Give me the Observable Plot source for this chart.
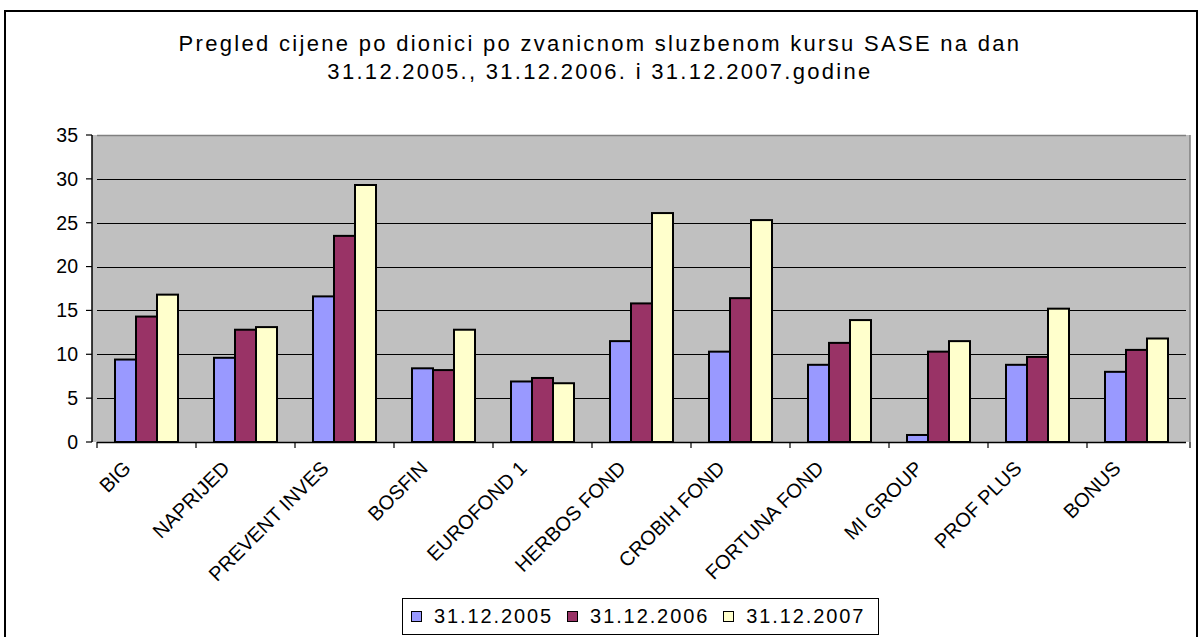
<!DOCTYPE html>
<html>
<head>
<meta charset="utf-8">
<script src="https://cdn.jsdelivr.net/npm/d3@7"></script>
<script src="https://cdn.jsdelivr.net/npm/@observablehq/plot@0.6"></script>
<style>
  html, body { margin: 0; padding: 0; background: #fff; }
  body { font-family: "Liberation Sans", Arial, sans-serif; }
  #wrap { position: relative; width: 1200px; height: 637px; overflow: hidden; background: #fff; }
  #border { position: absolute; left: 4px; top: 10px; width: 1194px; height: 660px; border: 2px solid #000; box-sizing: border-box; }
  #title { position: absolute; top: 30px; left: 0; width: 1200px; text-align: center; font-size: 22px; line-height: 28px; color: #000; letter-spacing: 2.3px; }
  #chart { position: absolute; left: 0; top: 100px; }
  #legend { position: absolute; left: 402px; top: 598px; width: 477px; height: 37px; border: 1px solid #000; box-sizing: border-box; display: flex; align-items: center; padding-left: 8px; font-size: 20px; letter-spacing: 1.9px; white-space: nowrap; }
  #legend .item { display: flex; align-items: center; margin-right: 14px; }
  #legend .sw { width: 9px; height: 9px; border: 1.5px solid #000; margin-right: 12px; }
</style>
</head>
<body>
<div id="wrap">
  <div id="border"></div>
  <div id="title"></div>
  <div id="chart"></div>
  <div id="legend"></div>
</div>
<script>
const titleLines = [
  "Pregled cijene po dionici po zvanicnom sluzbenom kursu SASE na dan",
  "31.12.2005., 31.12.2006. i 31.12.2007.godine"
];
const categories = ["BIG", "NAPRIJED", "PREVENT INVES", "BOSFIN", "EUROFOND 1", "HERBOS FOND", "CROBIH FOND", "FORTUNA FOND", "MI GROUP", "PROF PLUS", "BONUS"];
const series = ["31.12.2005", "31.12.2006", "31.12.2007"];
const v2005 = [9.4, 9.6, 16.6, 8.4, 6.9, 11.5, 10.3, 8.8, 0.8, 8.8, 8.0];
const v2006 = [14.3, 12.8, 23.5, 8.2, 7.3, 15.8, 16.4, 11.3, 10.3, 9.7, 10.5];
const v2007 = [16.8, 13.1, 29.3, 12.8, 6.7, 26.1, 25.3, 13.9, 11.5, 15.2, 11.8];
const yTicks = [0, 5, 10, 15, 20, 25, 30, 35];
const colors = ["#9999FF", "#993366", "#FFFFCC"];

const seriesValues = [v2005, v2006, v2007];
const table = [];
categories.forEach((c, i) => {
  series.forEach((s, j) => table.push({category: c, series: s, value: seriesValues[j][i]}));
});

document.getElementById("title").innerHTML = titleLines.join("<br>");

const labelDx = -15, labelDy = 27;

const chart = Plot.plot({
  width: 1200,
  height: 495,
  marginLeft: 92,
  marginRight: 10,
  marginTop: 35,
  marginBottom: 153,
  style: {fontFamily: "Liberation Sans, Arial, sans-serif", background: "transparent"},
  fx: {domain: categories, padding: 0, axis: null, label: null},
  x: {domain: series, paddingInner: 0, paddingOuter: 0.76, axis: null},
  y: {domain: [0, 35], axis: null},
  color: {domain: series, range: colors},
  marks: [
    Plot.ruleY(yTicks.slice(1, -1), {stroke: "#000", strokeWidth: 1, shapeRendering: "crispEdges"}),
    Plot.ruleY([35], {stroke: "#808080", strokeWidth: 1.5}),
    Plot.barY(table, {fx: "category", x: "series", y: "value", fill: "series", stroke: "#000", strokeWidth: 2}),
    Plot.ruleY([0], {stroke: "#000", strokeWidth: 1.5}),
    Plot.text(categories, {fx: d => d, frameAnchor: "bottom", text: d => d, rotate: -45, textAnchor: "end", lineAnchor: "bottom", dx: labelDx, dy: labelDy, fontSize: 20, fill: "#000", className: "catlabels"})
  ]
});
document.getElementById("chart").appendChild(chart);

// axis lines, ticks, background and borders drawn from the plot's own scales
const svg = d3.select(chart);
const fx = chart.scale("fx");
const y = chart.scale("y");
const x0 = fx.range[0], x1 = fx.range[1];
const yb = y.apply(0), yt = y.apply(35);
// single grey plot-area background behind all facets
svg.insert("rect", "g")
  .attr("x", x0).attr("y", yt).attr("width", x1 - x0).attr("height", yb - yt)
  .attr("fill", "#C0C0C0");
// clip category labels to the label area (as the original does)
svg.append("defs").append("clipPath").attr("id", "labclip").attr("clipPathUnits", "userSpaceOnUse")
  .append("rect").attr("x", -3000).attr("y", yb + 10 - labelDy).attr("width", 6000).attr("height", 1000);
svg.selectAll(".catlabels").attr("clip-path", "url(#labclip)");

const g = svg.append("g");
g.append("line").attr("x1", x1).attr("x2", x1).attr("y1", yt).attr("y2", yb).attr("stroke", "#808080").attr("stroke-width", 1.5);
g.append("line").attr("x1", x0).attr("x2", x0).attr("y1", yt).attr("y2", yb).attr("stroke", "#000").attr("stroke-width", 1.5);
yTicks.forEach(t => {
  const yy = y.apply(t);
  g.append("line").attr("x1", x0 - 6).attr("x2", x0).attr("y1", yy).attr("y2", yy).attr("stroke", "#000").attr("stroke-width", 1.2);
  g.append("text").attr("x", x0 - 14).attr("y", yy).attr("dy", "0.35em").attr("text-anchor", "end")
    .attr("font-size", 19.5).attr("fill", "#000").text(t);
});
const bounds = categories.map(c => fx.apply(c)).concat([x1]);
bounds.forEach(bx => {
  g.append("line").attr("x1", bx).attr("x2", bx).attr("y1", yb).attr("y2", yb + 6).attr("stroke", "#000").attr("stroke-width", 1.2);
});

// legend
const legend = d3.select("#legend");
series.forEach((s, i) => {
  const it = legend.append("div").attr("class", "item");
  it.append("div").attr("class", "sw").style("background", colors[i]);
  it.append("span").text(s);
});
</script>
</body>
</html>
